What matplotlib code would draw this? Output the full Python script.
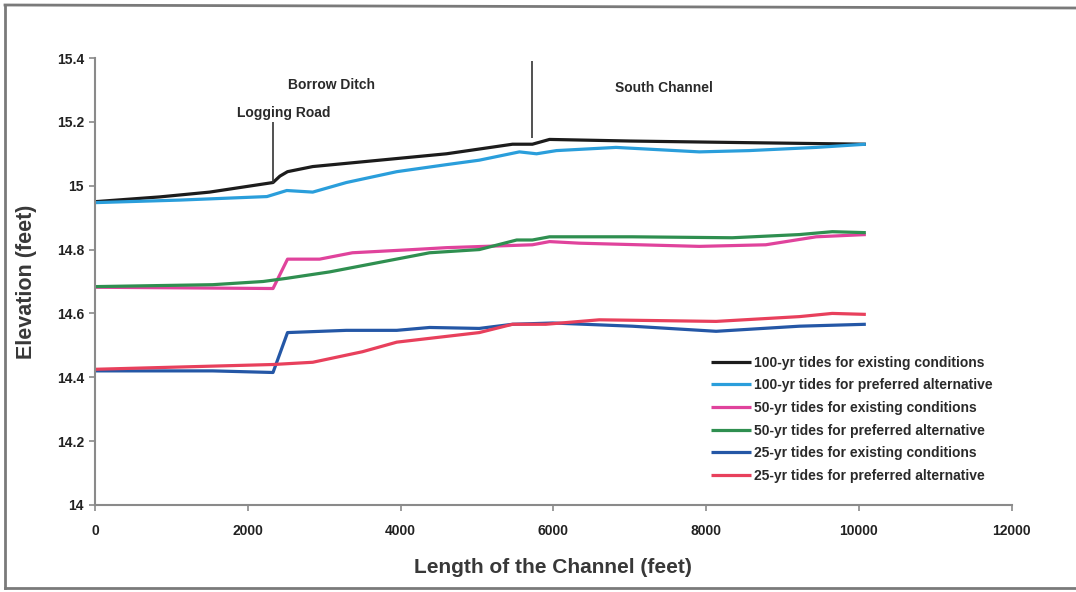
import matplotlib
matplotlib.use("Agg")
import matplotlib.pyplot as plt
from matplotlib.lines import Line2D

plt.rcParams['font.family'] = ['Liberation Sans', 'DejaVu Sans']

# ---- data (feet, elevation in feet) ----
x_100_exist = [0, 850, 1500, 2330, 2420, 2520, 2850, 3725, 4600, 5465, 5725, 5950, 7000, 8500, 10090]
y_100_exist = [14.95, 14.965, 14.98, 15.01, 15.03, 15.044, 15.06, 15.08, 15.10, 15.13, 15.13, 15.145, 15.14, 15.135, 15.13]

x_100_pref = [0, 1110, 2250, 2510, 2850, 3290, 3950, 4600, 5030, 5555, 5780, 6040, 6820, 7910, 8560, 9440, 10090]
y_100_pref = [14.947, 14.955, 14.966, 14.985, 14.98, 15.01, 15.044, 15.066, 15.08, 15.106, 15.10, 15.11, 15.12, 15.106, 15.11, 15.12, 15.13]

x_50_exist = [0, 2330, 2520, 2940, 3370, 4160, 4600, 5725, 5950, 6340, 7910, 8780, 9440, 10090]
y_50_exist = [14.682, 14.678, 14.77, 14.77, 14.79, 14.80, 14.806, 14.815, 14.825, 14.82, 14.81, 14.815, 14.84, 14.847]

x_50_pref = [0, 1540, 2200, 2510, 3070, 3725, 4380, 5030, 5520, 5725, 5950, 7030, 8340, 9220, 9650, 10090]
y_50_pref = [14.684, 14.69, 14.70, 14.71, 14.73, 14.76, 14.79, 14.80, 14.83, 14.83, 14.84, 14.84, 14.837, 14.847, 14.856, 14.853]

x_25_exist = [0, 1540, 2330, 2520, 3290, 3950, 4380, 5030, 5465, 5990, 7030, 8130, 9220, 10090]
y_25_exist = [14.42, 14.42, 14.415, 14.54, 14.547, 14.547, 14.556, 14.553, 14.566, 14.57, 14.56, 14.544, 14.56, 14.566]

x_25_pref = [0, 2330, 2850, 3500, 3950, 5030, 5465, 5900, 6600, 8130, 9220, 9650, 10090]
y_25_pref = [14.425, 14.44, 14.447, 14.48, 14.51, 14.54, 14.566, 14.566, 14.58, 14.575, 14.59, 14.60, 14.597]

series_labels = [
    "100-yr tides for existing conditions",
    "100-yr tides for preferred alternative",
    "50-yr tides for existing conditions",
    "50-yr tides for preferred alternative",
    "25-yr tides for existing conditions",
    "25-yr tides for preferred alternative",
]
series_colors = ["#1c1c1c", "#2a9edb", "#e0439c", "#2f8f50", "#2457a6", "#e8405c"]

# section markers (x in feet, y from, y to) and labels
marker_x = [2330, 5725]
marker_y0 = [15.01, 15.15]
marker_y1 = [15.20, 15.39]
section_texts = ["Borrow Ditch", "Logging Road", "South Channel"]
section_tx = [3100, 2470, 7450]
section_ty = [15.316, 15.228, 15.306]

x_ticks = [0, 2000, 4000, 6000, 8000, 10000, 12000]
y_ticks = [14, 14.2, 14.4, 14.6, 14.8, 15, 15.2, 15.4]
y_ticklabels = ["14", "14.2", "14.4", "14.6", "14.8", "15", "15.2", "15.4"]

# ---- figure ----
fig = plt.figure(figsize=(10.76, 5.92), dpi=100)
ax = fig.add_axes([0.0883, 0.147, 0.852, 0.755])

xs = [x_100_exist, x_100_pref, x_50_exist, x_50_pref, x_25_exist, x_25_pref]
ys = [y_100_exist, y_100_pref, y_50_exist, y_50_pref, y_25_exist, y_25_pref]
for xv, yv, lab, col in zip(xs, ys, series_labels, series_colors):
    ax.plot(xv, yv, color=col, lw=2.3, label=lab, solid_capstyle='butt')

ax.vlines(marker_x, marker_y0, marker_y1, color="#333333", lw=1.2)
for t, tx, ty in zip(section_texts, section_tx, section_ty):
    ax.text(tx, ty, t, ha='center', va='center', fontsize=10, fontweight='bold', color='#2a2a2a')

ax.set_xlim(0, 12000)
ax.set_ylim(14, 15.4)
ax.set_xticks(x_ticks)
ax.set_xticklabels([str(v) for v in x_ticks])
ax.set_yticks(y_ticks)
ax.set_yticklabels(y_ticklabels)

for s in ['top', 'right']:
    ax.spines[s].set_visible(False)
for s in ['left', 'bottom']:
    ax.spines[s].set_color('#8a8a8a')
    ax.spines[s].set_linewidth(1.5)

ax.tick_params(axis='both', direction='out', length=4, color='#8a8a8a', width=1.2,
               labelsize=10, labelcolor='#222222')
ax.tick_params(axis='x', pad=10)
ax.tick_params(axis='y', pad=4)
for lbl in ax.get_xticklabels() + ax.get_yticklabels():
    lbl.set_fontweight('bold')

ax.set_xlabel("Length of the Channel (feet)", fontsize=15, fontweight='bold', color='#383838', labelpad=14)
ax.set_ylabel("Elevation (feet)", fontsize=15.5, fontweight='bold', color='#383838', labelpad=14)

leg = ax.legend(loc='upper left', bbox_to_anchor=(0.672, 0.334), frameon=False,
                fontsize=10, handlelength=2.9, handletextpad=0.2, labelspacing=0.62,
                borderpad=0, borderaxespad=0)
for t in leg.get_texts():
    t.set_fontweight('bold')
    t.set_color('#2a2a2a')

# figure border (left, top, bottom)
W, H = 1076, 592
border_col = '#7a7a7a'
fig.add_artist(Line2D([5 / W, 5 / W], [1 - 5 / H, 1 - 588 / H], transform=fig.transFigure, color=border_col, lw=2))
fig.add_artist(Line2D([5 / W, 1.0], [1 - 5 / H, 1 - 8 / H], transform=fig.transFigure, color=border_col, lw=2))
fig.add_artist(Line2D([5 / W, 1.0], [1 - 588 / H, 1 - 588 / H], transform=fig.transFigure, color=border_col, lw=2))

fig.savefig("out.png", dpi=100)
